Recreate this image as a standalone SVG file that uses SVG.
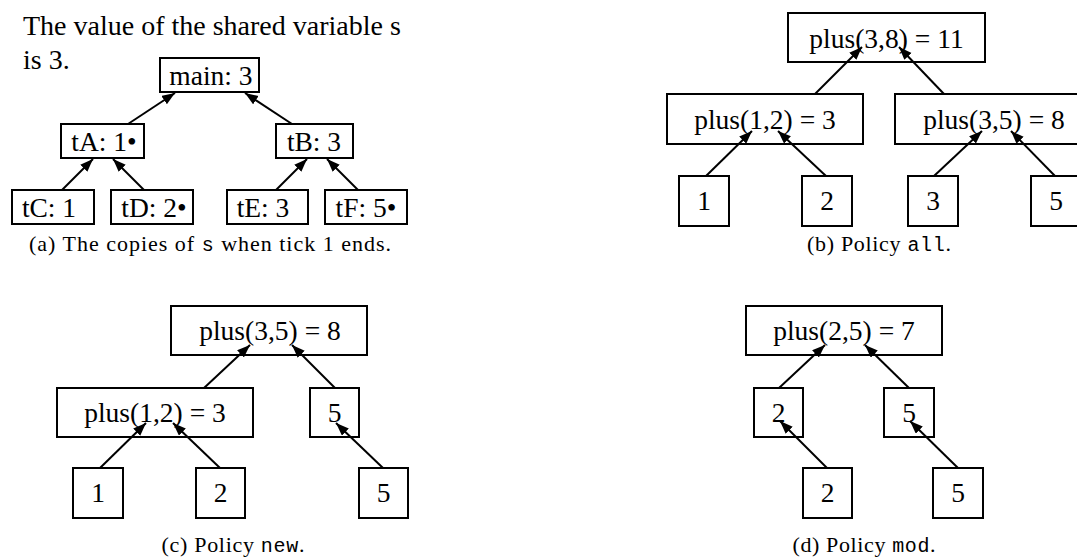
<svg xmlns="http://www.w3.org/2000/svg" width="1077" height="557" viewBox="0 0 1077 557">
<style>
.box{fill:#fff;stroke:#000;stroke-width:2}
.lbl{font-family:"Liberation Serif","Times New Roman",serif;font-size:27.5px;fill:#000;text-anchor:middle}
.title{font-family:"Liberation Serif","Times New Roman",serif;font-size:28px;fill:#000}
.cap{font-family:"Liberation Serif","Times New Roman",serif;font-size:22px;fill:#000;text-anchor:middle}
.tt{font-family:"Liberation Mono","Courier New",monospace;font-size:20px}
.edge{stroke:#000;stroke-width:2;fill:none;marker-end:url(#ah)}
</style>
<defs>
<marker id="ah" markerUnits="userSpaceOnUse" markerWidth="14" markerHeight="11" refX="13" refY="5" orient="auto">
<path d="M0,0 L13,5 L0,10 z" fill="#000"/>
</marker>
</defs>
<rect width="1077" height="557" fill="#fff"/>

<text class="title" x="23" y="35">The value of the shared variable s</text>
<text class="title" x="23" y="69">is 3.</text>

<!-- Panel (a) -->
<g id="a-main"><rect class="box" x="160" y="58" width="99" height="34"/><text class="lbl" x="211" y="85">main: 3</text></g>
<g id="a-tA"><rect class="box" x="61" y="124" width="83" height="34"/><text class="lbl" x="104" y="151">tA: 1•</text></g>
<g id="a-tB"><rect class="box" x="276" y="124" width="77" height="34"/><text class="lbl" x="314" y="151">tB: 3</text></g>
<g id="a-tC"><rect class="box" x="12" y="190" width="82" height="34"/><text class="lbl" x="49" y="217">tC: 1</text></g>
<g id="a-tD"><rect class="box" x="111" y="190" width="82" height="34"/><text class="lbl" x="154" y="217">tD: 2•</text></g>
<g id="a-tE"><rect class="box" x="227" y="190" width="81" height="34"/><text class="lbl" x="263" y="217">tE: 3</text></g>
<g id="a-tF"><rect class="box" x="325" y="190" width="82" height="34"/><text class="lbl" x="366" y="217">tF: 5•</text></g>

<!-- Panel (b) -->
<g id="b-top"><rect class="box" x="788" y="13" width="197" height="49"/><text class="lbl" x="886.5" y="48">plus(3,8) = 11</text></g>
<g id="b-p12"><rect class="box" x="667" y="94" width="196" height="50"/><text class="lbl" x="765" y="129">plus(1,2) = 3</text></g>
<g id="b-p35"><rect class="box" x="895" y="94" width="196" height="50"/><text class="lbl" x="994" y="129">plus(3,5) = 8</text></g>
<g id="b-1"><rect class="box" x="679" y="176" width="50" height="50"/><text class="lbl" x="704" y="210">1</text></g>
<g id="b-2"><rect class="box" x="802" y="176" width="50" height="50"/><text class="lbl" x="827" y="210">2</text></g>
<g id="b-3"><rect class="box" x="908" y="176" width="50" height="50"/><text class="lbl" x="933" y="210">3</text></g>
<g id="b-5"><rect class="box" x="1031" y="176" width="50" height="50"/><text class="lbl" x="1056" y="210">5</text></g>

<!-- Panel (c) -->
<g id="c-top"><rect class="box" x="171" y="306" width="196" height="49"/><text class="lbl" x="270" y="340">plus(3,5) = 8</text></g>
<g id="c-p12"><rect class="box" x="57" y="388" width="196" height="49"/><text class="lbl" x="155" y="422">plus(1,2) = 3</text></g>
<g id="c-m5"><rect class="box" x="310" y="388" width="49" height="49"/><text class="lbl" x="334.5" y="422">5</text></g>
<g id="c-1"><rect class="box" x="73" y="468" width="50" height="50"/><text class="lbl" x="98" y="502">1</text></g>
<g id="c-2"><rect class="box" x="196" y="468" width="49" height="50"/><text class="lbl" x="220.5" y="502">2</text></g>
<g id="c-5"><rect class="box" x="359" y="468" width="49" height="50"/><text class="lbl" x="383.5" y="502">5</text></g>

<!-- Panel (d) -->
<g id="d-top"><rect class="box" x="746" y="306" width="196" height="49"/><text class="lbl" x="844" y="340">plus(2,5) = 7</text></g>
<g id="d-m2"><rect class="box" x="754" y="388" width="49" height="49"/><text class="lbl" x="778.5" y="422">2</text></g>
<g id="d-m5"><rect class="box" x="884" y="388" width="50" height="49"/><text class="lbl" x="909" y="422">5</text></g>
<g id="d-2"><rect class="box" x="803" y="468" width="49" height="50"/><text class="lbl" x="827.5" y="502">2</text></g>
<g id="d-5"><rect class="box" x="933" y="468" width="50" height="50"/><text class="lbl" x="958" y="502">5</text></g>

<g id="connectors">
<line class="edge" x1="128" y1="124" x2="175" y2="93"/>
<line class="edge" x1="292" y1="124" x2="245" y2="93"/>
<line class="edge" x1="62" y1="190" x2="93" y2="159"/>
<line class="edge" x1="144" y1="190" x2="113" y2="159"/>
<line class="edge" x1="276" y1="190" x2="307" y2="159"/>
<line class="edge" x1="358" y1="190" x2="327" y2="159"/>

<line class="edge" x1="706" y1="176" x2="752" y2="131"/>
<line class="edge" x1="826" y1="176" x2="778" y2="131"/>
<line class="edge" x1="934" y1="176" x2="982" y2="131"/>
<line class="edge" x1="1055" y1="176" x2="1011" y2="131"/>
<line class="edge" x1="815" y1="94" x2="862" y2="47"/>
<line class="edge" x1="944" y1="94" x2="899" y2="47"/>

<line class="edge" x1="204" y1="388" x2="250" y2="345"/>
<line class="edge" x1="335" y1="388" x2="292" y2="345"/>
<line class="edge" x1="100" y1="468" x2="146" y2="423"/>
<line class="edge" x1="220" y1="468" x2="173" y2="423"/>
<line class="edge" x1="383" y1="468" x2="336" y2="423"/>

<line class="edge" x1="779" y1="388" x2="825" y2="345"/>
<line class="edge" x1="909" y1="388" x2="865" y2="345"/>
<line class="edge" x1="827" y1="468" x2="780" y2="421"/>
<line class="edge" x1="958" y1="468" x2="910" y2="421"/>
</g>

<text class="cap" x="210" y="251" textLength="362" lengthAdjust="spacing">(a) The copies of <tspan class="tt">s</tspan> when tick 1 ends.</text>
<text class="cap" x="879" y="251" textLength="144" lengthAdjust="spacing">(b) Policy <tspan class="tt">all</tspan>.</text>
<text class="cap" x="233" y="552" textLength="143" lengthAdjust="spacing">(c) Policy <tspan class="tt">new</tspan>.</text>
<text class="cap" x="864" y="552" textLength="143" lengthAdjust="spacing">(d) Policy <tspan class="tt">mod</tspan>.</text>
</svg>
